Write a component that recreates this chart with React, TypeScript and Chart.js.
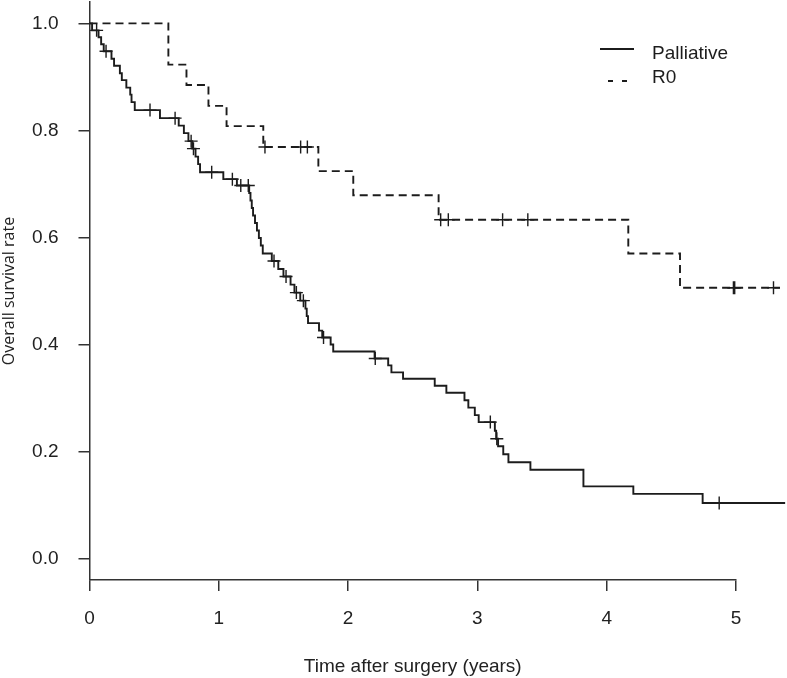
import React, { useEffect, useRef } from 'react';
import { Chart, registerables } from 'chart.js';

Chart.register(...registerables);

// Kaplan-Meier steps: time (years) and survival after the drop
const PALLIATIVE_TIMES = [0, 0.02, 0.07, 0.09, 0.11, 0.17, 0.19, 0.235, 0.25, 0.285, 0.315, 0.325, 0.35,
  0.545, 0.69, 0.73, 0.765, 0.795, 0.82, 0.84, 0.855, 1.035, 1.14,
  1.235, 1.245, 1.255, 1.265, 1.28, 1.295, 1.31, 1.325, 1.34, 1.41, 1.46, 1.5, 1.555, 1.585, 1.63,
  1.67, 1.68, 1.69, 1.775, 1.8, 1.865, 1.885, 2.205, 2.31, 2.335, 2.425, 2.67, 2.76, 2.9, 2.93, 2.98,
  3.01, 3.135, 3.145, 3.16, 3.2, 3.24, 3.41, 3.82, 4.206, 4.742, 5.38];
const PALLIATIVE_SURV = [1, 0.987, 0.974, 0.961, 0.948, 0.934, 0.921, 0.907, 0.894, 0.88, 0.867, 0.853, 0.838,
  0.823, 0.809, 0.795, 0.78, 0.766, 0.751, 0.737, 0.722, 0.709, 0.697,
  0.683, 0.669, 0.655, 0.641, 0.627, 0.613, 0.599, 0.585, 0.57, 0.556, 0.541, 0.527, 0.512, 0.497, 0.482,
  0.467, 0.453, 0.44, 0.426, 0.413, 0.4, 0.387, 0.374, 0.361, 0.348, 0.336, 0.323, 0.31, 0.296, 0.282, 0.268,
  0.255, 0.239, 0.224, 0.21, 0.195, 0.18, 0.166, 0.135, 0.121, 0.104, 0.104];
const PALLIATIVE_CENSOR = [0.055, 0.128, 0.468, 0.662, 0.786, 0.804, 0.945, 1.105, 1.17, 1.228, 1.427,
  1.52, 1.6, 1.654, 1.81, 2.21, 3.1, 3.15, 4.87];

const R0_TIMES = [0, 0.61, 0.75, 0.92, 1.06, 1.344, 1.77, 2.04, 2.7, 4.167, 4.567, 5.34];
const R0_SURV = [1, 0.923, 0.885, 0.846, 0.808, 0.769, 0.724, 0.679, 0.633, 0.57, 0.506, 0.506];
const R0_CENSOR = [1.357, 1.633, 1.685, 2.716, 2.775, 3.195, 3.39, 4.98, 4.99, 5.29];

const X_TICKS = [0, 1, 2, 3, 4, 5];
const Y_TICKS = [0, 0.2, 0.4, 0.6, 0.8, 1.0];
const Y_TICK_LABELS = ['0.0', '0.2', '0.4', '0.6', '0.8', '1.0'];
const SERIES_NAMES = ['Palliative', 'R0'];

const INK = '#1c1c1c';
const CROSS_R = 6.5;

function survivalAt(times: number[], surv: number[], t: number) {
  let v = surv[0];
  for (let i = 0; i < times.length; i++) {
    if (times[i] <= t) v = surv[i];
  }
  return v;
}

const legendPlugin = {
  id: 'kmLegend',
  afterDatasetsDraw(chart: any) {
    // censor marks that fall to the right of the 0-5 axis (outside the chart area)
    const ctx = chart.ctx;
    const right = chart.chartArea.right;
    ctx.save();
    ctx.strokeStyle = INK;
    ctx.lineWidth = 1.4;
    [2, 3].forEach((di) => {
      const meta = chart.getDatasetMeta(di);
      meta.data.forEach((el: any) => {
        if (el && typeof el.x === 'number' && isFinite(el.x) && el.x > right + 1) {
          ctx.beginPath();
          ctx.moveTo(el.x - CROSS_R, el.y);
          ctx.lineTo(el.x + CROSS_R, el.y);
          ctx.moveTo(el.x, el.y - CROSS_R);
          ctx.lineTo(el.x, el.y + CROSS_R);
          ctx.stroke();
        }
      });
    });
    ctx.restore();
  },
  afterDraw(chart: any) {
    const ctx = chart.ctx;
    ctx.save();
    ctx.strokeStyle = INK;
    ctx.lineWidth = 1.9;
    ctx.beginPath();
    ctx.moveTo(600, 49);
    ctx.lineTo(634, 49);
    ctx.stroke();
    ctx.setLineDash([5, 9]);
    ctx.beginPath();
    ctx.moveTo(608, 81);
    ctx.lineTo(627, 81);
    ctx.stroke();
    ctx.setLineDash([]);
    ctx.fillStyle = INK;
    ctx.font = '19px "Liberation Sans", Arial, sans-serif';
    ctx.textAlign = 'left';
    ctx.textBaseline = 'alphabetic';
    ctx.fillText(SERIES_NAMES[0], 652, 59);
    ctx.fillText(SERIES_NAMES[1], 652, 83);
    ctx.restore();
  },
};

export default function App() {
  const ref = useRef<HTMLCanvasElement | null>(null);
  useEffect(() => {
    document.body.style.margin = '0';
    if (!ref.current) return;
    const pall = PALLIATIVE_TIMES.map((t, i) => ({ x: t, y: PALLIATIVE_SURV[i] }));
    const r0 = R0_TIMES.map((t, i) => ({ x: t, y: R0_SURV[i] }));
    const pallC = PALLIATIVE_CENSOR.map((t) => ({ x: t, y: survivalAt(PALLIATIVE_TIMES, PALLIATIVE_SURV, t) }));
    const r0C = R0_CENSOR.map((t) => ({ x: t, y: survivalAt(R0_TIMES, R0_SURV, t) }));
    const crossOpts = { showLine: false, pointStyle: 'cross', pointRadius: CROSS_R, pointBorderWidth: 1.4, borderColor: INK, pointBorderColor: INK, clip: false };
    const chart = new Chart(ref.current, {
      type: 'line',
      data: {
        datasets: [
          { label: SERIES_NAMES[0], data: pall, stepped: 'before', borderColor: INK, borderWidth: 1.9, pointRadius: 0, fill: false, clip: false } as any,
          { label: SERIES_NAMES[1], data: r0, stepped: 'before', borderColor: INK, borderWidth: 1.9, borderDash: [8, 5], pointRadius: 0, fill: false, clip: false } as any,
          { label: 'c1', data: pallC, ...crossOpts } as any,
          { label: 'c2', data: r0C, ...crossOpts } as any,
        ],
      },
      options: {
        responsive: false,
        animation: false,
        events: [],
        layout: { autoPadding: false, padding: { top: 2, right: 51, left: 0, bottom: 0 } },
        plugins: { legend: { display: false }, tooltip: { enabled: false } },
        scales: {
          x: {
            type: 'linear',
            min: 0,
            max: 5,
            afterBuildTicks: (s: any) => { s.ticks = X_TICKS.map((v) => ({ value: v })); },
            afterFit: (s: any) => { s.height = 98; s.paddingLeft = 0; s.paddingRight = 0; },
            grid: { drawOnChartArea: false, drawTicks: true, tickLength: 11, color: '#333', lineWidth: 1.5 },
            border: { display: true, color: '#333', width: 1.5 },
            ticks: { color: '#222', font: { family: 'Liberation Sans', size: 19 }, padding: 16, maxRotation: 0, autoSkip: false, callback: (v: any) => String(v) },
            title: { display: true, text: 'Time after surgery (years)', color: '#222', font: { family: 'Liberation Sans', size: 19 }, padding: { top: 0, bottom: 0 } },
          },
          y: {
            type: 'linear',
            min: -0.04,
            max: 1.04,
            afterBuildTicks: (s: any) => { s.ticks = Y_TICKS.map((v) => ({ value: v })); },
            afterFit: (s: any) => { s.width = 89.5; s.paddingTop = 0; s.paddingBottom = 0; },
            grid: { drawOnChartArea: false, drawTicks: true, tickLength: 11, color: '#333', lineWidth: 1.5 },
            border: { display: true, color: '#333', width: 1.5 },
            ticks: { color: '#222', font: { family: 'Liberation Sans', size: 19 }, padding: 20, autoSkip: false, callback: (v: any) => Y_TICK_LABELS[Y_TICKS.indexOf(v)] ?? '' },
            title: { display: true, text: 'Overall survival rate', color: '#222', font: { family: 'Open Sans', size: 16 }, padding: { top: 0, bottom: 0 } },
          },
        },
      },
      plugins: [legendPlugin],
    });
    return () => chart.destroy();
  }, []);
  return (
    <div style={{ position: 'absolute', left: 0, top: 0, width: 787, height: 678, background: '#fff' }}>
      <canvas ref={ref} width={787} height={678} style={{ width: 787, height: 678, display: 'block' }} />
    </div>
  );
}
